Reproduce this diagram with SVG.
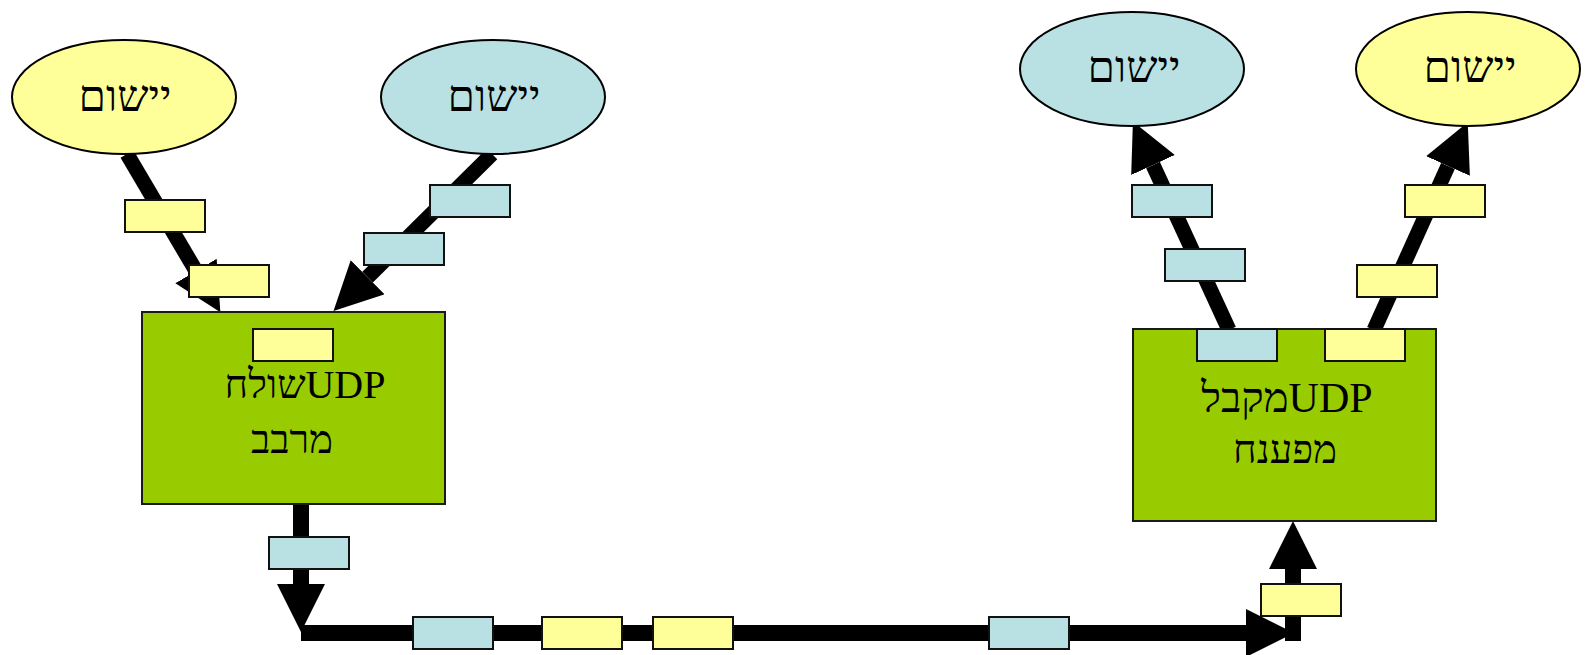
<svg xmlns="http://www.w3.org/2000/svg" width="1585" height="655" viewBox="0 0 1585 655">
<style>
.conn{stroke:#000;stroke-width:15;fill:none;marker-end:url(#ah)}
.thick{stroke-width:16}
.ell{stroke:#000;stroke-width:2}
.box{fill:#99CC00;stroke:#1a1a1a;stroke-width:2}
.y{fill:#FFFF99}
.b{fill:#B9E0E3}
.pk{stroke:#111;stroke-width:2}
text{font-family:"Liberation Serif","DejaVu Serif",serif;font-size:40px;fill:#000;text-anchor:middle}
.et{font-size:44px}
</style>
<defs>
<marker id="ah" markerUnits="userSpaceOnUse" markerWidth="48" markerHeight="48" refX="0" refY="24" orient="auto" viewBox="0 0 48 48">
<path d="M0,0 L48,24 L0,48 z" fill="#000"/>
</marker>
</defs>
<rect width="1585" height="655" fill="#fff"/>
<g id="connectors">
<path class="conn" d="M127,154 L196,271"/>
<path class="conn" d="M492,154 L367.6,277.2"/>
<path class="conn thick" d="M301,504 L301,584"/>
<path class="conn thick" d="M301,633 L1246,633"/>
<path class="conn thick" d="M1293,641 L1293,569"/>
<path class="conn" d="M1229,330 L1153,165"/>
<path class="conn" d="M1374,330 L1448,166"/>
</g>
<g id="app-left-yellow">
<ellipse class="ell y" cx="124" cy="97" rx="112" ry="57"/>
<text class="et" x="125" y="111">יישום</text>
</g>
<g id="app-left-blue">
<ellipse class="ell b" cx="493" cy="97" rx="112" ry="57"/>
<text class="et" x="494" y="111">יישום</text>
</g>
<g id="app-right-blue">
<ellipse class="ell b" cx="1132" cy="69" rx="112" ry="57"/>
<text class="et" x="1134" y="82">יישום</text>
</g>
<g id="app-right-yellow">
<ellipse class="ell y" cx="1468" cy="69" rx="112" ry="57"/>
<text class="et" x="1470" y="82">יישום</text>
</g>
<g id="udp-sender">
<rect class="box" x="142" y="312" width="303" height="192"/>
<text x="305" y="398">שולחUDP</text>
<text x="292" y="453">מרבב</text>
</g>
<g id="udp-receiver">
<rect class="box" x="1133" y="329" width="303" height="192"/>
<text x="1287" y="412" style="font-size:42px">מקבלUDP</text>
<text x="1285" y="463">מפענח</text>
</g>
<g id="packets">
<rect class="pk y" x="125" y="200" width="80" height="32"/>
<rect class="pk y" x="189" y="265" width="80" height="32"/>
<rect class="pk b" x="430" y="185" width="80" height="32"/>
<rect class="pk b" x="364" y="233" width="80" height="32"/>
<rect class="pk y" x="253" y="329" width="80" height="32"/>
<rect class="pk b" x="269" y="537" width="80" height="32"/>
<rect class="pk b" x="413" y="617" width="80" height="32"/>
<rect class="pk y" x="542" y="617" width="80" height="32"/>
<rect class="pk y" x="653" y="617" width="80" height="32"/>
<rect class="pk b" x="989" y="617" width="80" height="32"/>
<rect class="pk y" x="1261" y="584" width="80" height="32"/>
<rect class="pk b" x="1197" y="329" width="80" height="32"/>
<rect class="pk y" x="1325" y="329" width="80" height="32"/>
<rect class="pk b" x="1132" y="185" width="80" height="32"/>
<rect class="pk b" x="1165" y="249" width="80" height="32"/>
<rect class="pk y" x="1405" y="185" width="80" height="32"/>
<rect class="pk y" x="1357" y="265" width="80" height="32"/>
</g>
</svg>
